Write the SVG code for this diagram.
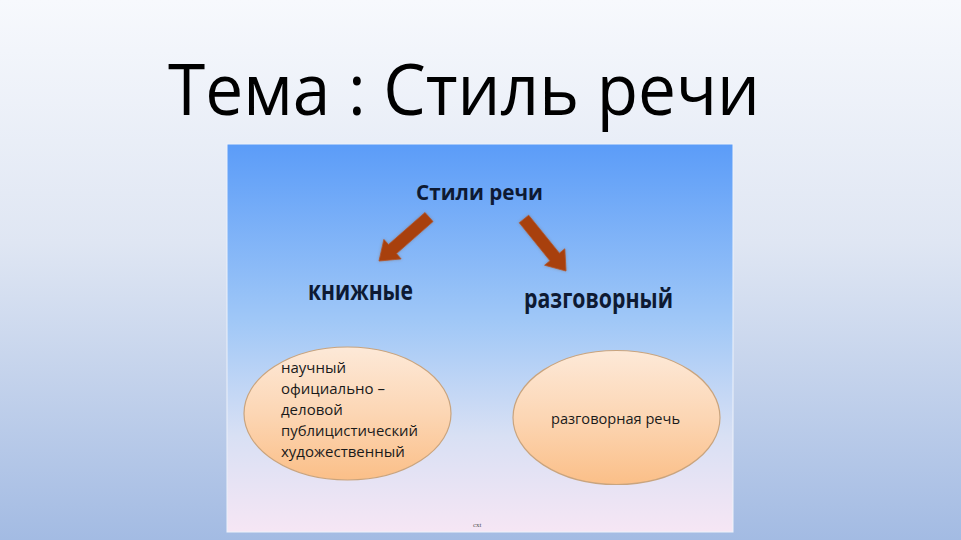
<svg xmlns="http://www.w3.org/2000/svg" width="961" height="540" viewBox="0 0 961 540">
<defs>
<linearGradient id="slideBg" x1="0" y1="0" x2="0" y2="1">
<stop offset="0" stop-color="#f7f9fd"/>
<stop offset="0.45" stop-color="#dfe6f3"/>
<stop offset="1" stop-color="#a3bbe3"/>
</linearGradient>
<linearGradient id="picBg" x1="0" y1="0" x2="0" y2="1">
<stop offset="0" stop-color="#5b9cf8"/>
<stop offset="0.45" stop-color="#9fc7f7"/>
<stop offset="0.75" stop-color="#d8e0f4"/>
<stop offset="1" stop-color="#f6e6f4"/>
</linearGradient>
<linearGradient id="ellFill" x1="0" y1="0" x2="0" y2="1">
<stop offset="0" stop-color="#fde9d8"/>
<stop offset="0.5" stop-color="#fcd6b4"/>
<stop offset="1" stop-color="#fbbf88"/>
</linearGradient>
<filter id="glow" x="-30%" y="-30%" width="160%" height="160%">
<feGaussianBlur in="SourceAlpha" stdDeviation="1.5" result="b"/>
<feFlood flood-color="#7a5a40" flood-opacity="0.45"/>
<feComposite in2="b" operator="in" result="s"/>
<feMerge><feMergeNode in="s"/><feMergeNode in="SourceGraphic"/></feMerge>
</filter>
</defs>
<style>
.hdr{font-family:"Open Sans","DejaVu Sans",sans-serif;font-weight:bold;fill:#0e1a33;}
.body{font-family:"Open Sans","DejaVu Sans",sans-serif;font-size:15px;fill:#1a1a1a;}
.ell{fill:url(#ellFill);stroke:#c9a47e;stroke-width:1.2;}
.arrow{fill:#a8400f;stroke:#b4552a;stroke-width:0.8;filter:url(#glow);}
</style>
<rect x="0" y="0" width="961" height="540" fill="url(#slideBg)"/>
<text x="168" y="115" font-family="'Open Sans','DejaVu Sans',sans-serif" font-size="72" fill="#000" textLength="592" lengthAdjust="spacingAndGlyphs">Тема : Стиль речи</text>
<rect x="227" y="144" width="506" height="388" fill="url(#picBg)" stroke="#eef2fa" stroke-width="1"/>
<g id="root">
<text class="hdr" x="416" y="200" font-size="22" textLength="127" lengthAdjust="spacingAndGlyphs">Стили речи</text>
</g>
<g id="knizhnye">
<text class="hdr" x="308" y="300" font-size="26" textLength="105" lengthAdjust="spacingAndGlyphs">книжные</text>
</g>
<g id="razgovorny">
<text class="hdr" x="524" y="308" font-size="26" textLength="149" lengthAdjust="spacingAndGlyphs">разговорный</text>
</g>
<g id="book-styles">
<ellipse class="ell" cx="347.5" cy="413.5" rx="103.5" ry="66.5"/>
<text class="body" x="281" y="373">научный</text>
<text class="body" x="281" y="394">официально –</text>
<text class="body" x="281" y="415">деловой</text>
<text class="body" x="281" y="436" textLength="137" lengthAdjust="spacingAndGlyphs">публицистический</text>
<text class="body" x="281" y="457">художественный</text>
</g>
<g id="colloquial-style">
<ellipse class="ell" cx="616.5" cy="417.5" rx="103.5" ry="67"/>
<text class="body" x="551" y="424" textLength="129" lengthAdjust="spacingAndGlyphs">разговорная речь</text>
</g>
<g id="connectors">
<polygon class="arrow" points="433,221.5 396.5,253.6 401.1,258.9 379,261 383.9,239.4 388.5,244.6 425,212.5"/>
<polygon class="arrow" points="528.7,215.2 559.4,253.2 564.8,248.8 566,271 544.6,265.2 550,260.8 519.3,222.8"/>
</g>
<text x="473" y="527" font-family="'Liberation Serif',serif" font-size="7" fill="#555">cxt</text>
</svg>
